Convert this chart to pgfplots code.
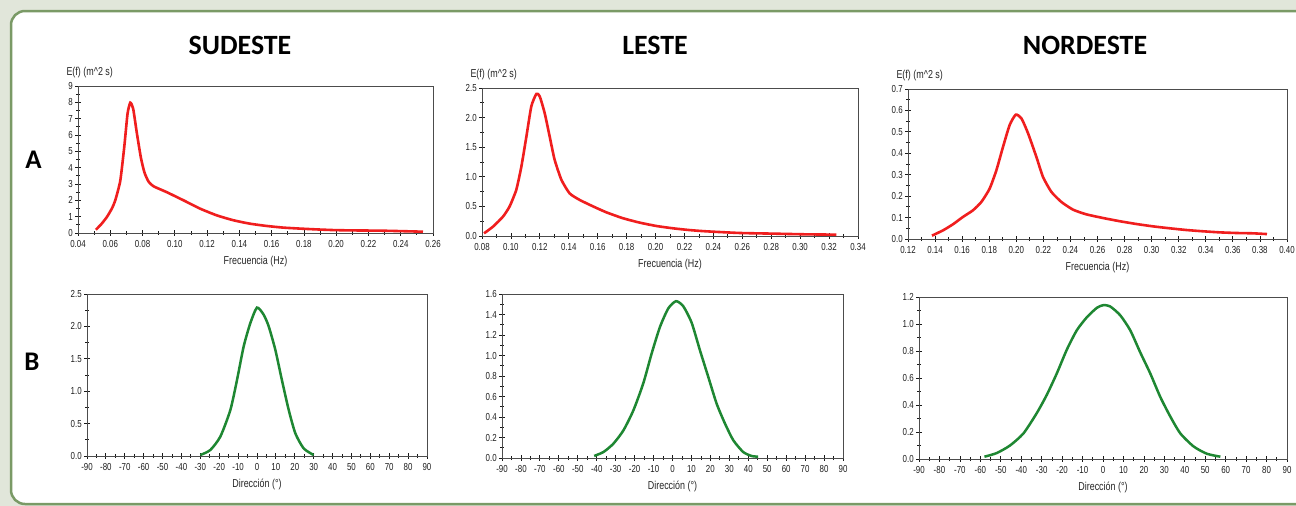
\documentclass[border=0pt]{standalone}
\usepackage{pgfplots}
\pgfplotsset{compat=1.18}
\usepackage{fontspec}
\setmainfont{Liberation Sans}
\newfontfamily\tf[FakeStretch=0.78]{Liberation Sans}
\newfontfamily\calf{Carlito}
\definecolor{bgc}{RGB}{225,230,218}
\definecolor{brd}{RGB}{122,154,102}
\definecolor{redc}{RGB}{240,30,30}
\definecolor{grc}{RGB}{30,135,50}
\pgfplotsset{
  panel/.style={scale only axis, anchor=north west, clip=false,
    axis line style={draw=black!70, line width=0.8bp},
    tick align=center, tick pos=left,
    major tick length=5.5bp, minor tick length=4bp,
    tick style={black!90, line width=0.8bp},
    minor x tick num=1, minor y tick num=1,
    tick label style={font=\tf\fontsize{10.2}{12}\selectfont, text=black!88},
    label style={font=\tf\fontsize{11.5}{13}\selectfont, text=black!85},
    /pgf/number format/assume math mode=true,
    xticklabel style={yshift=-1.5bp},
    yticklabel style={xshift=1bp},
    xlabel style={yshift=-1bp},
  },
  fx/.style={xticklabel style={/pgf/number format/.cd, fixed, fixed zerofill, precision=2}},
  fy/.style={yticklabel style={/pgf/number format/.cd, fixed, fixed zerofill, precision=1}},
  redl/.style={redc, line width=2.6bp, smooth, tension=0.35},
  grl/.style={grc, line width=2.5bp, smooth, tension=0.4},
}
\newcommand{\Ef}{\node[anchor=west, font=\tf\fontsize{11.5}{13}\selectfont, text=black!85] at (rel axis cs:0,1) [xshift=-15bp, yshift=13bp] {E(f) (m\textasciicircum 2 s)};}
\begin{document}
\begin{tikzpicture}
\begin{scope}
\clip (0,0) rectangle (1296bp,-506bp);
\fill[bgc] (0,0) rectangle (1296bp,-506bp);
\draw[brd, fill=white, line width=2.5bp, rounded corners=14bp] (11bp,-11bp) rectangle (1330bp,-504bp);
\end{scope}
\node[font=\calf\bfseries\fontsize{28}{30}\selectfont] at (240bp,-45bp) {SUDESTE};
\node[font=\calf\bfseries\fontsize{28}{30}\selectfont] at (655bp,-45bp) {LESTE};
\node[font=\calf\bfseries\fontsize{28}{30}\selectfont] at (1085bp,-45bp) {NORDESTE};
\node[font=\calf\bfseries\fontsize{27}{30}\selectfont] at (33.5bp,-160bp) {A};
\node[font=\calf\bfseries\fontsize{27}{30}\selectfont] at (32bp,-362bp) {B};

% A1 SUDESTE
\begin{axis}[panel, fx, at={(78bp,-86bp)}, width=355bp, height=147bp,
  xmin=0.04, xmax=0.26, ymin=0, ymax=9,
  xtick={0.04,0.06,0.08,0.10,0.12,0.14,0.16,0.18,0.20,0.22,0.24,0.26},
  ytick={0,1,2,3,4,5,6,7,8,9},
  xlabel={Frecuencia (Hz)}]
\addplot[redl] coordinates {
(0.0511,0.2) (0.0545,0.55) (0.0579,0.98) (0.0610,1.5) (0.0631,2.0) (0.0662,3.2)
(0.0687,5.3) (0.0707,7.3) (0.0724,7.98) (0.0742,7.6) (0.0765,6.1) (0.0790,4.6)
(0.0812,3.7) (0.0837,3.15) (0.0868,2.86) (0.0950,2.5) (0.1054,2.0) (0.1157,1.49)
(0.1260,1.08) (0.1363,0.78) (0.1466,0.57) (0.1570,0.43) (0.1672,0.33) (0.1775,0.27)
(0.1878,0.22) (0.1980,0.18) (0.2085,0.16) (0.2290,0.14) (0.2538,0.08)};
\Ef
\end{axis}

% A2 LESTE
\begin{axis}[panel, fx, fy, at={(482bp,-88bp)}, width=376bp, height=148bp,
  xmin=0.08, xmax=0.34, ymin=0, ymax=2.5,
  xtick={0.08,0.10,0.12,0.14,0.16,0.18,0.20,0.22,0.24,0.26,0.28,0.30,0.32,0.34},
  ytick={0,0.5,1.0,1.5,2.0,2.5},
  xlabel={Frecuencia (Hz)}]
\addplot[redl] coordinates {
(0.0814,0.045) (0.0876,0.158) (0.0945,0.327) (0.0991,0.50) (0.1037,0.78) (0.1072,1.17)
(0.1107,1.68) (0.1141,2.19) (0.1176,2.40) (0.1199,2.36) (0.1233,2.08) (0.1268,1.68)
(0.1302,1.29) (0.1349,0.95) (0.1406,0.72) (0.1475,0.61) (0.1568,0.50) (0.1660,0.40)
(0.1775,0.30) (0.1890,0.226) (0.2006,0.169) (0.2121,0.13) (0.2236,0.10) (0.2351,0.079)
(0.2582,0.051) (0.2812,0.04) (0.3043,0.028) (0.3250,0.023)};
\Ef
\end{axis}

% A3 NORDESTE
\begin{axis}[panel, fx, fy, at={(908bp,-89bp)}, width=379bp, height=150bp,
  xmin=0.12, xmax=0.40, ymin=0, ymax=0.7,
  xtick={0.12,0.14,0.16,0.18,0.20,0.22,0.24,0.26,0.28,0.30,0.32,0.34,0.36,0.38,0.40},
  ytick={0,0.1,0.2,0.3,0.4,0.5,0.6,0.7},
  xlabel={Frecuencia (Hz)}]
\addplot[redl] coordinates {
(0.1377,0.0156) (0.1459,0.0405) (0.1532,0.0686) (0.1606,0.103) (0.1680,0.134) (0.1742,0.173)
(0.1803,0.235) (0.1853,0.321) (0.1902,0.43) (0.1951,0.532) (0.1996,0.58) (0.2038,0.563)
(0.2087,0.493) (0.2148,0.384) (0.2197,0.29) (0.2259,0.22) (0.2333,0.173) (0.2419,0.137)
(0.2518,0.115) (0.2641,0.098) (0.2764,0.083) (0.2887,0.070) (0.3010,0.059) (0.3133,0.050)
(0.3256,0.042) (0.3379,0.036) (0.3503,0.031) (0.3626,0.028) (0.3749,0.0265) (0.3852,0.023)};
\Ef
\end{axis}

% B1
\begin{axis}[panel, fy, at={(87bp,-294bp)}, width=340bp, height=162bp,
  xmin=-90, xmax=90, ymin=0, ymax=2.5,
  xtick={-90,-80,-70,-60,-50,-40,-30,-20,-10,0,10,20,30,40,50,60,70,80,90},
  ytick={0,0.5,1.0,1.5,2.0,2.5},
  xlabel={Dirección (°)}]
\addplot[grl] coordinates {
(-30.0,0.015) (-24.7,0.093) (-19.4,0.30) (-14.1,0.71) (-10.6,1.17) (-7.06,1.69)
(-3.53,2.05) (0.0,2.29) (3.53,2.18) (6.2,2.0) (9.7,1.64) (13.2,1.17) (16.8,0.71)
(20.3,0.35) (24.7,0.118) (30.0,0.015)};
\end{axis}

% B2
\begin{axis}[panel, fy, at={(502bp,-294bp)}, width=341bp, height=164bp,
  xmin=-90, xmax=90, ymin=0, ymax=1.6,
  xtick={-90,-80,-70,-60,-50,-40,-30,-20,-10,0,10,20,30,40,50,60,70,80,90},
  ytick={0,0.2,0.4,0.6,0.8,1.0,1.2,1.4,1.6},
  xlabel={Dirección (°)}]
\addplot[grl] coordinates {
(-41.35,0.02) (-36.4,0.059) (-31.2,0.14) (-25.9,0.27) (-20.6,0.467) (-15.4,0.73)
(-11.0,1.02) (-6.6,1.28) (-2.2,1.46) (1.85,1.53) (5.7,1.48) (10.1,1.32) (14.5,1.05)
(18.9,0.79) (23.3,0.53) (27.7,0.336) (32.1,0.173) (37.3,0.059) (41.7,0.02) (45.2,0.013)};
\end{axis}

% B3
\begin{axis}[panel, fy, at={(919bp,-297bp)}, width=368bp, height=162bp,
  xmin=-90, xmax=90, ymin=0, ymax=1.2,
  xtick={-90,-80,-70,-60,-50,-40,-30,-20,-10,0,10,20,30,40,50,60,70,80,90},
  ytick={0,0.2,0.4,0.6,0.8,1.0,1.2},
  xlabel={Dirección (°)}]
\addplot[grl] coordinates {
(-58.0,0.017) (-52.0,0.044) (-45.5,0.10) (-38.9,0.19) (-32.4,0.34) (-27.5,0.475)
(-22.6,0.634) (-17.7,0.81) (-12.8,0.954) (-7.9,1.05) (-3.0,1.12) (0.24,1.14) (3.5,1.13)
(8.4,1.065) (13.3,0.954) (18.2,0.79) (23.1,0.634) (28.0,0.46) (32.9,0.315) (37.8,0.19)
(44.3,0.093) (50.8,0.039) (57.4,0.017)};
\end{axis}
\pgfresetboundingbox
\useasboundingbox (0,0) rectangle (1296bp,-506bp);
\end{tikzpicture}
\end{document}
